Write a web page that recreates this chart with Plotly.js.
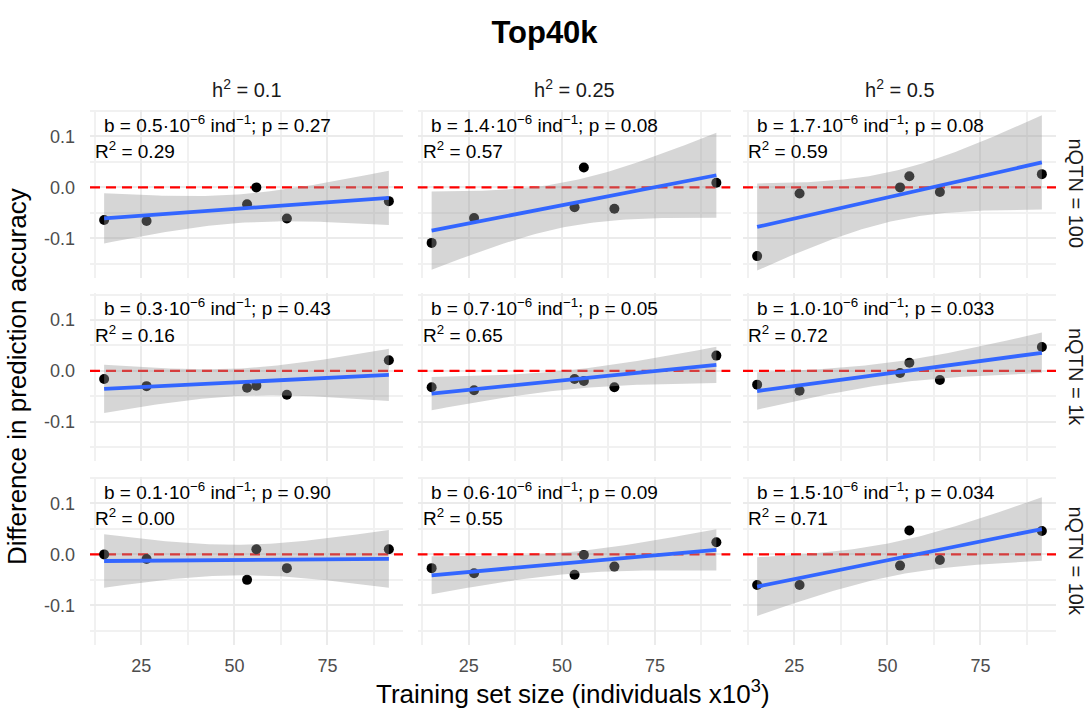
<!DOCTYPE html>
<html>
<head>
<meta charset="utf-8">
<script src="https://cdn.plot.ly/plotly-3.0.1.min.js"></script>
<style>html,body{margin:0;padding:0;background:#fff;}#chart{width:1089px;height:711px;}</style>
</head>
<body>
<div id="chart"></div>
<script>
// ---------- data ----------
const trainSize = [15, 26.4, 53.4, 55.9, 64.1, 91.5]; // individuals x10^3

const h2Labels   = ['h<sup>2</sup> = 0.1', 'h<sup>2</sup> = 0.25', 'h<sup>2</sup> = 0.5'];
const nqtnLabels = ['nQTN = 100', 'nQTN = 1k', 'nQTN = 10k'];

// difference in prediction accuracy, rows = nQTN, cols = h2
const diff_q100_h010 = [-0.064, -0.066, -0.033, 0.000, -0.061, -0.027];
const diff_q100_h025 = [-0.109, -0.060, -0.039, 0.039, -0.042, 0.009];
const diff_q100_h050 = [-0.135, -0.012, 0.000, 0.022, -0.009, 0.026];
const diff_q1k_h010  = [-0.016, -0.030, -0.033, -0.029, -0.047, 0.021];
const diff_q1k_h025  = [-0.032, -0.038, -0.016, -0.020, -0.032, 0.030];
const diff_q1k_h050  = [-0.027, -0.039, -0.004, 0.016, -0.018, 0.047];
const diff_q10k_h010 = [0.000, -0.009, -0.050, 0.010, -0.027, 0.010];
const diff_q10k_h025 = [-0.027, -0.037, -0.040, -0.001, -0.024, 0.024];
const diff_q10k_h050 = [-0.060, -0.060, -0.022, 0.047, -0.011, 0.046];

const slopeLabels = ['0.5', '1.4', '1.7', '0.3', '0.7', '1.0', '0.1', '0.6', '1.5'];
const pLabels     = ['0.27', '0.08', '0.08', '0.43', '0.05', '0.033', '0.90', '0.09', '0.034'];
const r2Labels    = ['0.29', '0.57', '0.59', '0.16', '0.65', '0.72', '0.00', '0.55', '0.71'];

const refLevel  = 0; // red dashed reference line (no difference)
const yTickVals = [-0.1, 0, 0.1];
const yTickText = ['-0.1', '0.0', '0.1'];
const xTickVals = [25, 50, 75];

const panels = [diff_q100_h010, diff_q100_h025, diff_q100_h050,
                diff_q1k_h010,  diff_q1k_h025,  diff_q1k_h050,
                diff_q10k_h010, diff_q10k_h025, diff_q10k_h050];

// ---------- layout geometry ----------
const W = 1089, H = 711;
const colL = [90, 417.5, 743], colW = 313;
const rowT = [109.5, 293, 476.5], rowH = 168;
const xRange = [11.2, 95.3], yRange = [-0.177, 0.153];
const FONT = 'Liberation Sans, Arial, Helvetica, sans-serif';
const T_CRIT = 2.776445; // t(0.975, df = 4)

function lmFit(x, y) {
  const n = x.length;
  const mx = x.reduce((a, b) => a + b, 0) / n;
  const my = y.reduce((a, b) => a + b, 0) / n;
  let sxx = 0, sxy = 0;
  for (let i = 0; i < n; i++) { sxx += (x[i]-mx)*(x[i]-mx); sxy += (x[i]-mx)*(y[i]-my); }
  const b = sxy / sxx, a = my - b * mx;
  let sse = 0;
  for (let i = 0; i < n; i++) { const r = y[i] - (a + b*x[i]); sse += r*r; }
  const s = Math.sqrt(sse / (n - 2));
  const xmin = Math.min(...x), xmax = Math.max(...x);
  const xs = [], fit = [], lo = [], hi = [];
  for (let k = 0; k < 80; k++) {
    const xv = xmin + (xmax - xmin) * k / 79;
    const f = a + b * xv;
    const se = s * Math.sqrt(1/n + (xv-mx)*(xv-mx)/sxx);
    xs.push(xv); fit.push(f); lo.push(f - T_CRIT*se); hi.push(f + T_CRIT*se);
  }
  return {xs, fit, lo, hi};
}

const traces = [], annotations = [];
const layout = {
  width: W, height: H,
  margin: {l: 0, r: 0, t: 0, b: 0},
  paper_bgcolor: '#fff', plot_bgcolor: '#fff',
  showlegend: false,
  font: {family: FONT, color: '#1a1a1a'},
  title: {text: '<b>Top40k</b>', x: 0.5, xanchor: 'center', y: 1 - 32/H, yanchor: 'middle',
          font: {family: FONT, size: 31, color: '#000'}}
};

for (let r = 0; r < 3; r++) {
  for (let c = 0; c < 3; c++) {
    const k = r*3 + c + 1;
    const xa = 'x' + (k > 1 ? k : ''), ya = 'y' + (k > 1 ? k : '');
    const y = panels[k-1];
    const f = lmFit(trainSize, y);

    // reference line across the full panel width
    traces.push({type: 'scatter', mode: 'lines', x: xRange, y: [refLevel, refLevel], xaxis: xa, yaxis: ya,
                 line: {color: '#ff0000', width: 2.2, dash: '10px,6px'}, hoverinfo: 'skip'});
    traces.push({type: 'scatter', mode: 'markers', x: trainSize, y: y, xaxis: xa, yaxis: ya,
                 marker: {color: '#000', size: 10}, hoverinfo: 'skip'});
    traces.push({type: 'scatter', mode: 'lines', x: f.xs.concat(f.xs.slice().reverse()),
                 y: f.hi.concat(f.lo.slice().reverse()), fill: 'toself',
                 fillcolor: 'rgba(153,153,153,0.4)', line: {width: 0}, xaxis: xa, yaxis: ya, hoverinfo: 'skip'});
    traces.push({type: 'scatter', mode: 'lines', x: f.xs, y: f.fit, xaxis: xa, yaxis: ya,
                 line: {color: '#3366FF', width: 3.8}, hoverinfo: 'skip'});

    const common = {showline: false, zeroline: false, showgrid: true, gridcolor: '#ebebeb', gridwidth: 2,
                    ticks: '', tickfont: {family: FONT, size: 18, color: '#4d4d4d'}, automargin: false};
    layout['xaxis' + (k > 1 ? k : '')] = Object.assign({}, common, {
      domain: [colL[c]/W, (colL[c]+colW)/W], anchor: ya, range: xRange,
      tickmode: 'array', tickvals: xTickVals, ticktext: xTickVals.map(String),
      showticklabels: r === 2, ticklabelstandoff: 8,
      minor: {tickmode: 'array', tickvals: [12.5, 37.5, 62.5, 87.5], showgrid: true, gridcolor: '#f1f1f1', gridwidth: 2, ticks: ''}
    });
    layout['yaxis' + (k > 1 ? k : '')] = Object.assign({}, common, {
      domain: [1 - (rowT[r]+rowH)/H, 1 - rowT[r]/H], anchor: xa, range: yRange,
      tickmode: 'array', tickvals: yTickVals, ticktext: yTickText,
      showticklabels: c === 0, ticklabelstandoff: 14,
      minor: {tickmode: 'array', tickvals: [-0.15, -0.05, 0.05, 0.15], showgrid: true, gridcolor: '#f1f1f1', gridwidth: 2, ticks: ''}
    });

    annotations.push({xref: xa + ' domain', yref: ya, x: 11.5/colW, y: 0.125, xanchor: 'left', yanchor: 'middle',
      showarrow: false, text: 'b = ' + slopeLabels[k-1] + '·10<sup>−6</sup> ind<sup>−1</sup>; p = ' + pLabels[k-1],
      font: {family: FONT, size: 19, color: '#000'}});
    annotations.push({xref: xa + ' domain', yref: ya, x: 3/colW, y: 0.073, xanchor: 'left', yanchor: 'middle',
      showarrow: false, text: 'R<sup>2</sup> = ' + r2Labels[k-1],
      font: {family: FONT, size: 19, color: '#000'}});
  }
}

// strip labels
for (let c = 0; c < 3; c++) {
  annotations.push({xref: 'paper', yref: 'paper', x: (colL[c] + colW/2)/W, y: 1 - 88/H,
    xanchor: 'center', yanchor: 'middle', showarrow: false, text: h2Labels[c],
    font: {family: FONT, size: 20, color: '#1a1a1a'}});
}
for (let r = 0; r < 3; r++) {
  annotations.push({xref: 'paper', yref: 'paper', x: 1076/W, y: 1 - (rowT[r] + rowH/2)/H,
    xanchor: 'center', yanchor: 'middle', showarrow: false, textangle: 90, text: nqtnLabels[r],
    font: {family: FONT, size: 20, color: '#1a1a1a'}});
}
// axis titles
annotations.push({xref: 'paper', yref: 'paper', x: (colL[0] + colL[2] + colW)/2/W, y: 1 - 692/H,
  xanchor: 'center', yanchor: 'middle', showarrow: false,
  text: 'Training set size (individuals x10<sup>3</sup>)', font: {family: FONT, size: 26, color: '#000'}});
annotations.push({xref: 'paper', yref: 'paper', x: 17/W, y: 1 - 377/H,
  xanchor: 'center', yanchor: 'middle', showarrow: false, textangle: -90,
  text: 'Difference in prediction accuracy', font: {family: FONT, size: 26, color: '#000'}});

layout.annotations = annotations;

Plotly.newPlot('chart', traces, layout, {staticPlot: true, displayModeBar: false});
</script>
</body>
</html>
